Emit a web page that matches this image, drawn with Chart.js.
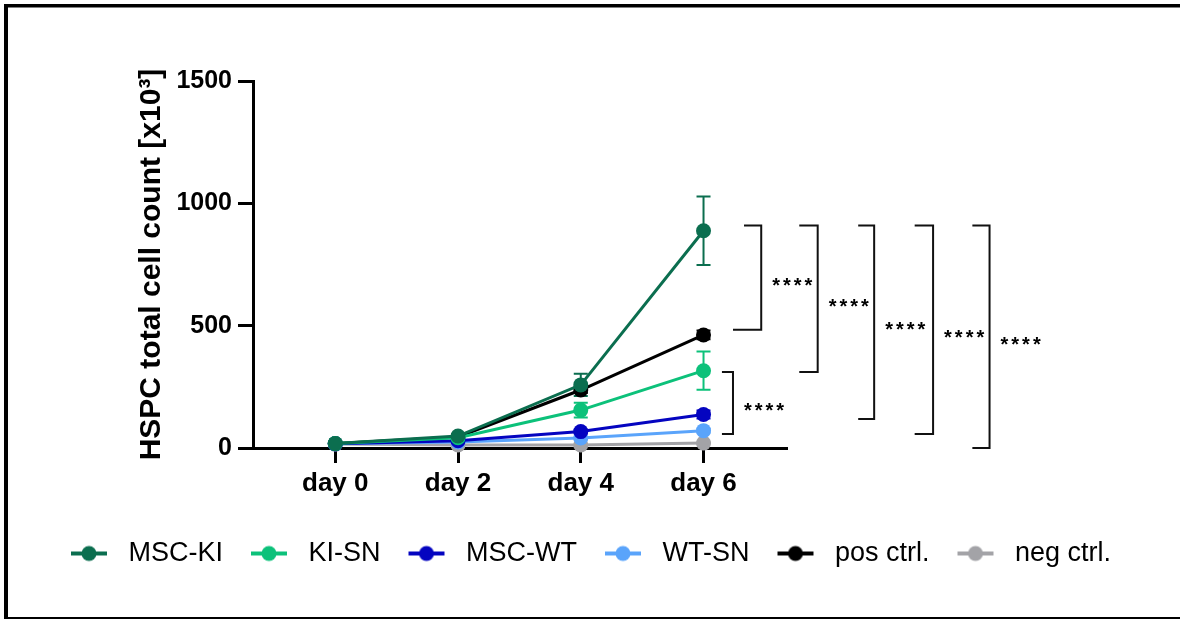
<!DOCTYPE html>
<html>
<head>
<meta charset="utf-8">
<script src="https://cdn.jsdelivr.net/npm/chart.js@4.4.0/dist/chart.umd.min.js"></script>
<style>
  html, body { margin: 0; padding: 0; background: #fff; }
</style>
</head>
<body>
<canvas id="myChart" width="1180" height="619"></canvas>
<script>
// data (x10^3 cells)
const days = ['day 0', 'day 2', 'day 4', 'day 6']
const dayPos = [0, 1, 2, 3]
const yTicks = [0, 500, 1000, 1500]

const mscKi = [18, 49, 258, 888]
const mscKiSd = [3, 6, 45, 140]
const kiSn = [18, 42, 155, 316]
const kiSnSd = [3, 5, 30, 78]
const mscWt = [17, 30, 67, 137]
const mscWtSd = [2, 4, 8, 16]
const wtSn = [17, 25, 41, 71]
const wtSnSd = [2, 3, 5, 8]
const posCtrl = [18, 45, 237, 462]
const posCtrlSd = [2, 4, 12, 18]
const negCtrl = [16, 12, 12, 20]
const negCtrlSd = [2, 2, 2, 3]

// significance brackets: top, bottom (y values), top arm start, bottom arm start, bar (x units)
const brackets = [
  [909, 483, 3.33, 3.24, 3.47],
  [909, 311, 3.78, 3.78, 3.93],
  [909, 119, 4.26, 4.26, 4.39],
  [909, 57, 4.72, 4.72, 4.87],
  [909, 0, 5.19, 5.19, 5.33],
  [311, 57, 3.15, 3.15, 3.24],
]
const stars = '****'

const series = [
  ['MSC-KI', mscKi, mscKiSd, '#0b6e4f'],
  ['KI-SN', kiSn, kiSnSd, '#0cc17a'],
  ['MSC-WT', mscWt, mscWtSd, '#0404c0'],
  ['WT-SN', wtSn, wtSnSd, '#5aa4fb'],
  ['pos ctrl.', posCtrl, posCtrlSd, '#000000'],
  ['neg ctrl.', negCtrl, negCtrlSd, '#a3a3a7'],
]

Chart.defaults.font.family = '"Liberation Sans", Arial, sans-serif'
Chart.defaults.color = '#000'

function marker(color) {
  const c = document.createElement('canvas')
  c.width = 60
  c.height = 18
  const g = c.getContext('2d')
  g.strokeStyle = color
  g.lineWidth = 4
  g.beginPath()
  g.moveTo(16, 9)
  g.lineTo(52, 9)
  g.stroke()
  g.fillStyle = color
  g.beginPath()
  g.arc(34, 9, 7.5, 0, Math.PI * 2)
  g.fill()
  return c
}
const markers = series.map(s => marker(s[3]))

const datasets = series.map(([label, vals, sd, color]) => ({
  label,
  sd,
  data: vals.map((v, i) => ({ x: dayPos[i], y: v })),
  borderColor: color,
  backgroundColor: color,
  borderWidth: 3,
  pointRadius: 7.5,
  pointHoverRadius: 7.5,
  pointBorderWidth: 0,
  clip: false,
}))

const errorBars = {
  id: 'errorBars',
  beforeDatasetsDraw(chart) {
    const { ctx, scales: { x, y } } = chart
    chart.data.datasets.forEach(ds => {
      ctx.save()
      ctx.strokeStyle = ds.borderColor
      ctx.lineWidth = 2
      ds.data.forEach((p, j) => {
        const px = x.getPixelForValue(p.x)
        const top = y.getPixelForValue(p.y + ds.sd[j])
        const bot = y.getPixelForValue(p.y - ds.sd[j])
        ctx.beginPath()
        ctx.moveTo(px, top); ctx.lineTo(px, bot)
        ctx.moveTo(px - 7, top); ctx.lineTo(px + 7, top)
        ctx.moveTo(px - 7, bot); ctx.lineTo(px + 7, bot)
        ctx.stroke()
      })
      ctx.restore()
    })
  },
}

const sigBrackets = {
  id: 'sigBrackets',
  afterDraw(chart) {
    const { ctx, scales: { x, y } } = chart
    ctx.save()
    ctx.strokeStyle = '#111'
    ctx.fillStyle = '#000'
    ctx.lineWidth = 2
    ctx.font = 'bold 20px "Liberation Sans", Arial, sans-serif'
    ctx.letterSpacing = '3px'
    ctx.textAlign = 'left'
    ctx.textBaseline = 'alphabetic'
    brackets.forEach(([top, bot, xt, xb, xv]) => {
      const yt = y.getPixelForValue(top)
      const yb = y.getPixelForValue(bot)
      const pv = x.getPixelForValue(xv)
      ctx.beginPath()
      ctx.moveTo(x.getPixelForValue(xt), yt)
      ctx.lineTo(pv, yt)
      ctx.lineTo(pv, yb)
      ctx.lineTo(x.getPixelForValue(xb), yb)
      ctx.stroke()
      ctx.fillText(stars, pv + 11, (yt + yb) / 2 + 14)
    })
    ctx.restore()
  },
}

const frame = {
  id: 'frame',
  beforeDraw(chart) {
    const { ctx, width, height } = chart
    ctx.save()
    ctx.fillStyle = '#fff'
    ctx.fillRect(0, 0, width, height)
    ctx.restore()
  },
  afterDraw(chart) {
    const { ctx, width, height } = chart
    ctx.save()
    ctx.fillStyle = '#000'
    ctx.fillRect(4, 4, width - 4, 3.5)
    ctx.fillRect(4, 4, 4, height - 4)
    ctx.fillRect(4, height - 2, width - 4, 2)
    ctx.restore()
  },
}

new Chart(document.getElementById('myChart').getContext('2d'), {
  type: 'line',
  data: { datasets },
  options: {
    responsive: false,
    animation: false,
    devicePixelRatio: 1,
    layout: { padding: { top: 81, left: 0, right: 14, bottom: 42 } },
    plugins: {
      tooltip: { enabled: false },
      legend: {
        position: 'bottom',
        labels: {
          usePointStyle: true,
          pointStyleWidth: 60,
          padding: 12,
          color: '#000',
          font: { size: 27 },
          generateLabels: chart =>
            Chart.defaults.plugins.legend.labels.generateLabels(chart)
              .map(l => ({ ...l, pointStyle: markers[l.datasetIndex] })),
        },
      },
    },
    scales: {
      x: {
        type: 'linear',
        min: -0.67,
        max: 3.68,
        afterBuildTicks: s => { s.ticks = dayPos.map(v => ({ value: v })) },
        afterFit: s => { s.height = 80 },
        ticks: {
          callback: v => days[v],
          padding: 5,
          font: { size: 26, weight: 'bold' },
          color: '#000',
        },
        grid: { drawOnChartArea: false, tickLength: 15, tickWidth: 3, tickColor: '#000' },
        border: { color: '#000', width: 3 },
      },
      y: {
        min: 0,
        max: 1500,
        afterBuildTicks: s => { s.ticks = yTicks.map(v => ({ value: v })) },
        afterFit: s => { s.width = 253 },
        ticks: {
          callback: v => String(v),
          padding: 6,
          font: { size: 25, weight: 'bold' },
          color: '#000',
        },
        grid: { drawOnChartArea: false, tickLength: 15, tickWidth: 3, tickColor: '#000' },
        border: { color: '#000', width: 3 },
        title: {
          display: true,
          text: 'HSPC total cell count [x10³]',
          font: { size: 30, weight: 'bold' },
          color: '#000',
          padding: { top: 134, bottom: 0 },
        },
      },
      yr: {
        position: 'right',
        display: true,
        afterFit: s => { s.width = 379 },
        ticks: { display: false },
        grid: { display: false },
        border: { display: false },
      },
    },
  },
  plugins: [frame, errorBars, sigBrackets],
})
</script>
</body>
</html>
